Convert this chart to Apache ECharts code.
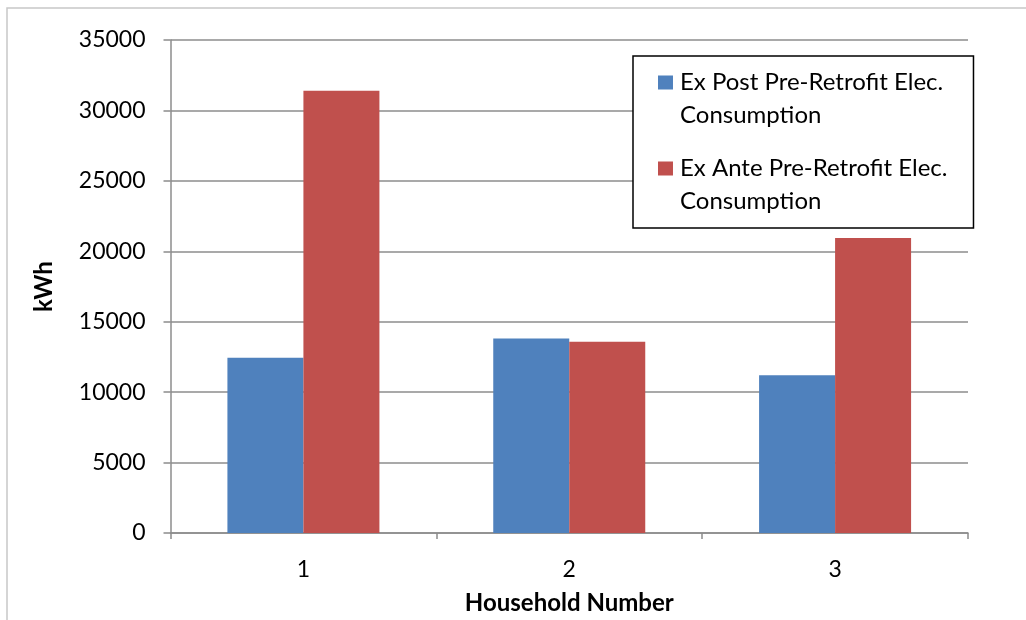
<!DOCTYPE html>
<html>
<head>
<meta charset="utf-8">
<script src="https://cdn.jsdelivr.net/npm/echarts@6/dist/echarts.min.js"></script>
<style>
html,body{margin:0;padding:0;background:#fff;}
#chart{width:1026px;height:620px;}
</style>
</head>
<body>
<div id="chart"></div>
<script>
const categories = ['1', '2', '3'];
const seriesNames = ['Ex Post Pre-Retrofit Elec.\nConsumption', 'Ex Ante Pre-Retrofit Elec.\nConsumption'];
const exPost = [12450, 13800, 11200];
const exAnte = [31400, 13580, 20950];
const yTicks = { min: 0, max: 35000, interval: 5000 };

const FONT = 'Lato';
const chart = echarts.init(document.getElementById('chart'), null, { renderer: 'canvas' });
const squareIcon = 'path://M0,0h15v14h-15z M0,47h0.05v0.05h-0.05z';
chart.setOption({
  backgroundColor: '#ffffff',
  animation: false,
  textStyle: { fontFamily: FONT },
  graphic: [{
    type: 'rect',
    shape: { x: 7, y: 8, width: 1200, height: 800 },
    style: { fill: 'none', stroke: '#c8c8c8', lineWidth: 1.5 },
    silent: true
  }],
  grid: { left: 170.5, right: 58, top: 40, bottom: 86.5, containLabel: false },
  legend: {
    orient: 'vertical',
    left: 633,
    top: 56,
    padding: [10, 26, 10, 25],
    itemGap: 20,
    itemWidth: 15,
    itemHeight: 47,
    borderColor: '#000',
    borderWidth: 1.5,
    backgroundColor: '#fff',
    icon: squareIcon,
    textStyle: { fontFamily: FONT, fontSize: 24, lineHeight: 33, color: '#000', padding: [0, 0, 0, 2] },
    data: seriesNames
  },
  xAxis: {
    type: 'category',
    data: categories,
    name: 'Household Number',
    nameLocation: 'middle',
    nameGap: 58,
    nameTextStyle: { fontFamily: FONT, fontSize: 24, fontWeight: 'bold', color: '#000' },
    axisLine: { lineStyle: { color: '#8c8c8c', width: 1.5 } },
    axisTick: { show: true, length: 6, lineStyle: { color: '#8c8c8c', width: 1.5 } },
    axisLabel: { fontFamily: FONT, fontSize: 23, color: '#000', margin: 25 }
  },
  yAxis: {
    type: 'value',
    min: yTicks.min,
    max: yTicks.max,
    interval: yTicks.interval,
    name: 'kWh',
    nameLocation: 'middle',
    nameGap: 114,
    nameTextStyle: { fontFamily: FONT, fontSize: 24, fontWeight: 'bold', color: '#000' },
    axisLine: { show: true, lineStyle: { color: '#8c8c8c', width: 1.5 } },
    axisTick: { show: true, length: 7, lineStyle: { color: '#8c8c8c', width: 1.5 } },
    axisLabel: { fontFamily: FONT, fontSize: 23, color: '#000', margin: 25, formatter: function (v) { return String(v); } },
    splitLine: { show: true, lineStyle: { color: '#8c8c8c', width: 1.5 } }
  },
  series: [
    {
      name: seriesNames[0],
      type: 'bar',
      data: exPost,
      barWidth: 76,
      barGap: '0%',
      itemStyle: { color: '#4F81BD' }
    },
    {
      name: seriesNames[1],
      type: 'bar',
      data: exAnte,
      barWidth: 76,
      barGap: '0%',
      itemStyle: { color: '#C0504D' }
    }
  ]
});
</script>
</body>
</html>
